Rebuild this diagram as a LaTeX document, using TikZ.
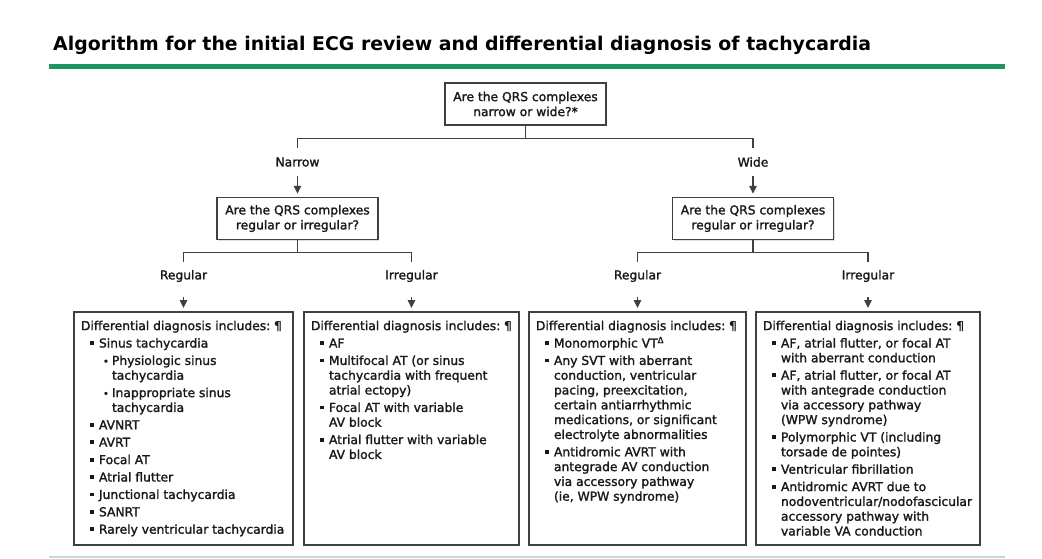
\documentclass[tikz,border=0pt]{standalone}
\usepackage{fontspec}
\setmainfont{DejaVu Sans}
\newfontfamily\dxfam{DejaVu Sans}[AutoFakeBold=1.6]
\newfontfamily\headfam{DejaVu Sans Bold}
\usepackage{tikz}
\usetikzlibrary{arrows.meta,shadows}
\definecolor{title-green}{RGB}{27,150,98}
\definecolor{rule-mint}{RGB}{178,228,206}
\definecolor{box-gray}{gray}{0.25}
\definecolor{text-dark}{gray}{0.1}

\newcommand{\flowfont}{\dxfam\bfseries\fontsize{12.3pt}{15pt}\selectfont}
\newcommand{\dxhead}{Differential diagnosis includes:~{\headfam\mdseries ¶}\par}
\newcommand{\dxitem}[1]{\par\vspace{2.6pt}\hangindent=18pt\hangafter=1\noindent\hspace*{9pt}\makebox[9pt][l]{\raisebox{2.5pt}{\rule{3.8pt}{3.8pt}}}#1\par}
\newcommand{\dxsub}[1]{\par\vspace{2.6pt}\hangindent=31pt\hangafter=1\noindent\hspace*{22pt}\makebox[9pt][l]{{\fontsize{10pt}{10pt}\selectfont •}}#1\par}
\newcommand{\dxlist}[2]{\makebox[#1][l]{\begin{minipage}[t][215pt][t]{260pt}\parindent=0pt\parskip=0pt\flowfont\fontsize{12.3pt}{14.8pt}\selectfont #2\end{minipage}}}

\begin{document}
\begin{tikzpicture}[x=1pt,y=-1pt,
		every node/.style={text=text-dark},
		qbox/.style={draw=box-gray, line width=1.5pt, fill=white, minimum width=161pt, minimum height=42pt, align=center, inner sep=2pt, font=\flowfont, drop shadow={shadow xshift=1.2pt,shadow yshift=-1.2pt,opacity=.25}},
		dxbox/.style={draw=box-gray, line width=1.5pt, fill=white, anchor=north, inner xsep=7pt, inner ysep=9pt, drop shadow={shadow xshift=1.2pt,shadow yshift=-1.2pt,opacity=.25}},
		lbl/.style={inner sep=0pt, minimum height=28pt, font=\flowfont},
		conn/.style={draw=box-gray, line width=1.4pt},
		arr/.style={conn, -{Triangle[length=8pt,width=7.5pt]}, shorten >=3pt}]
	\useasboundingbox (0,0) rectangle (1042,558);

	\node[anchor=base west, inner sep=0pt, font=\headfam\fontsize{18.9pt}{20pt}\selectfont, text=black] (title) at (53,50) {Algorithm for the initial ECG review and differential diagnosis of tachycardia};
	\draw[title-green, line width=5pt] (49,66) -- (1005,66);
	\draw[rule-mint, line width=1.5pt] (49,557) -- (1005,557);

	\node[qbox] (q0) at (525.5,104) {Are the QRS complexes\\narrow or wide?*};

	\node[lbl] (nar) at (297.5,162) {Narrow};
	\node[lbl] (wid) at (753,162) {Wide};

	\node[qbox] (qn) at (297.5,218.5) {Are the QRS complexes\\regular or irregular?};
	\node[qbox] (qw) at (753,218.5) {Are the QRS complexes\\regular or irregular?};

	\node[lbl] (nreg) at (183.5,276) {Regular};
	\node[lbl] (nirr) at (411.5,276) {Irregular};
	\node[lbl] (wreg) at (637.5,276) {Regular};
	\node[lbl] (wirr) at (868,276) {Irregular};

	\node[dxbox] (dx1) at (183.5,311) {\dxlist{205pt}{\dxhead
		\dxitem{Sinus tachycardia}
		\dxsub{Physiologic sinus\\tachycardia}
		\dxsub{Inappropriate sinus\\tachycardia}
		\dxitem{AVNRT}
		\dxitem{AVRT}
		\dxitem{Focal AT}
		\dxitem{Atrial flutter}
		\dxitem{Junctional tachycardia}
		\dxitem{SANRT}
		\dxitem{Rarely ventricular tachycardia}}};
	\node[dxbox] (dx2) at (411.5,311) {\dxlist{201pt}{\dxhead
		\dxitem{AF}
		\dxitem{Multifocal AT (or sinus\\tachycardia with frequent\\atrial ectopy)}
		\dxitem{Focal AT with variable\\AV block}
		\dxitem{Atrial flutter with variable\\AV block}}};
	\node[dxbox] (dx3) at (637.5,311) {\dxlist{203pt}{\dxhead
		\dxitem{Monomorphic VT\textsuperscript{Δ}}
		\dxitem{Any SVT with aberrant\\conduction, ventricular\\pacing, preexcitation,\\certain antiarrhythmic\\medications, or significant\\electrolyte abnormalities}
		\dxitem{Antidromic AVRT with\\antegrade AV conduction\\via accessory pathway\\(ie, WPW syndrome)}}};
	\node[dxbox] (dx4) at (868,311) {\dxlist{210pt}{\dxhead
		\dxitem{AF, atrial flutter, or focal AT\\with aberrant conduction}
		\dxitem{AF, atrial flutter, or focal AT\\with antegrade conduction\\via accessory pathway\\(WPW syndrome)}
		\dxitem{Polymorphic VT (including\\torsade de pointes)}
		\dxitem{Ventricular fibrillation}
		\dxitem{Antidromic AVRT due to\\nodoventricular/nodofascicular\\accessory pathway with\\variable VA conduction}}};

	\draw[conn] (q0.south) -- ++(0,13) -| (nar.north);
	\draw[conn] (q0.south) -- ++(0,13) -| (wid.north);
	\draw[arr] (nar.south) -- (qn.north);
	\draw[arr] (wid.south) -- (qw.north);

	\draw[conn] (qn.south) -- ++(0,12) -| (nreg.north);
	\draw[conn] (qn.south) -- ++(0,12) -| (nirr.north);
	\draw[conn] (qw.south) -- ++(0,12) -| (wreg.north);
	\draw[conn] (qw.south) -- ++(0,12) -| (wirr.north);
	\draw[arr, shorten <=7pt] (nreg.south) -- (dx1.north);
	\draw[arr, shorten <=7pt] (nirr.south) -- (dx2.north);
	\draw[arr, shorten <=7pt] (wreg.south) -- (dx3.north);
	\draw[arr, shorten <=7pt] (wirr.south) -- (dx4.north);
\end{tikzpicture}
\end{document}
